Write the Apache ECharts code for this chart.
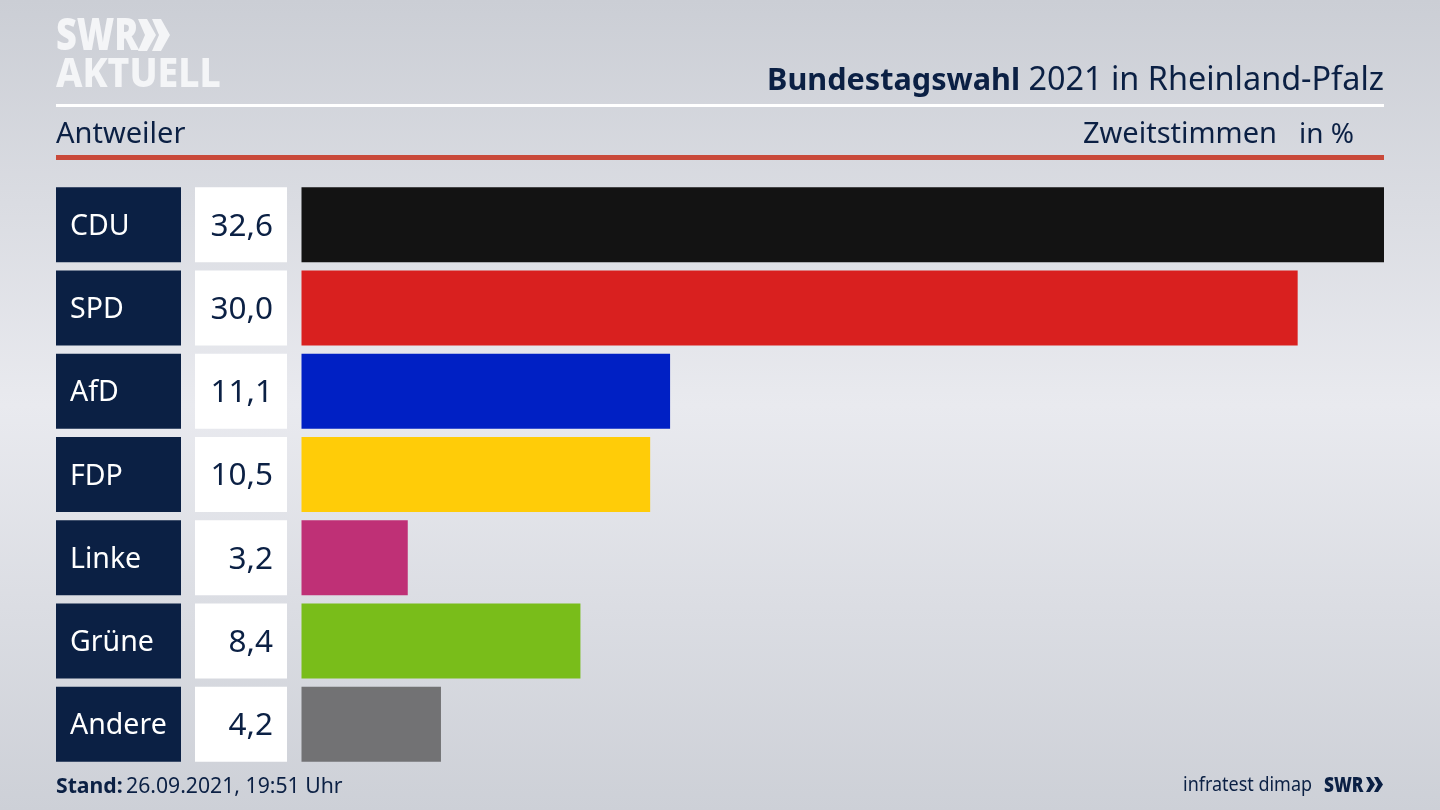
<!DOCTYPE html>
<html>
<head>
<meta charset="utf-8">
<title>Bundestagswahl 2021 Antweiler</title>
<script src="https://cdn.jsdelivr.net/npm/echarts@6/dist/echarts.min.js"></script>
<style>
  html, body { margin: 0; padding: 0; }
  #chart { width: 1440px; height: 810px; }
</style>
</head>
<body>
<div id="chart"></div>
<script>
const parties = ['CDU', 'SPD', 'AfD', 'FDP', 'Linke', 'Grüne', 'Andere'];
const shares = [32.6, 30.0, 11.1, 10.5, 3.2, 8.4, 4.2];
const partyColors = ['#131313', '#d9201f', '#0020c4', '#ffcc08', '#bf3076', '#79bd1a', '#727274'];

const navy = '#0b2044';
const font = '"Noto Sans", "Open Sans", sans-serif';

const chart = echarts.init(document.getElementById('chart'));

function chevron(x, y, fill) {
  return {
    type: 'polygon',
    shape: { points: [[x, y], [x + 9, y], [x + 18, y + 16], [x + 9, y + 32], [x, y + 32], [x + 7, y + 16]] },
    style: { fill: fill }
  };
}

function smallChevron(x, y) {
  return {
    type: 'polygon',
    shape: { points: [[x, y], [x + 4, y], [x + 9, y + 7.5], [x + 4, y + 15], [x, y + 15], [x + 4, y + 7.5]] },
    style: { fill: navy }
  };
}

chart.setOption({
  animation: false,
  backgroundColor: new echarts.graphic.LinearGradient(0, 0, 0, 1, [
    { offset: 0, color: '#cbced5' },
    { offset: 0.5, color: '#e9eaef' },
    { offset: 1, color: '#cdd0d7' }
  ]),
  grid: { left: 301.5, right: 56, top: 183, height: 583, containLabel: false },
  xAxis: { type: 'value', min: 0, max: 32.6, show: false },
  yAxis: {
    type: 'category',
    data: parties,
    inverse: true,
    axisLine: { show: false },
    axisTick: { show: false },
    axisLabel: {
      margin: 14.5,
      formatter: function (name, i) {
        return '{party|' + name + '}{gap|}{share|' + shares[i].toFixed(1).replace('.', ',') + '}';
      },
      rich: {
        party: {
          width: 111, height: 71, padding: [4, 0, 0, 14], align: 'left',
          backgroundColor: navy, color: '#ffffff', fontFamily: font, fontSize: 28.5
        },
        gap: { width: 14, height: 75 },
        share: {
          width: 78, height: 71, padding: [4, 14, 0, 0], align: 'right',
          backgroundColor: '#ffffff', color: navy, fontFamily: font, fontSize: 31.5
        }
      }
    }
  },
  series: [{
    type: 'bar',
    barWidth: 75,
    data: shares.map((v, i) => ({ value: v, itemStyle: { color: partyColors[i] } }))
  }],
  graphic: [
    // header
    { type: 'text', x: 56, y: 15, scaleX: 0.82, style: { text: 'SWR', fill: '#f4f5f7', font: '900 44px ' + font } },
    chevron(138, 19, '#f4f5f7'),
    chevron(152, 19, '#f4f5f7'),
    { type: 'text', x: 56, y: 55, scaleX: 0.91, style: { text: 'AKTUELL', fill: '#f4f5f7', font: '800 41px ' + font } },
    { type: 'text', x: 1020, y: 66, style: { text: 'Bundestagswahl', align: 'right', fill: navy, font: '700 30.6px ' + font } },
    { type: 'text', x: 1384, y: 65, style: { text: '2021 in Rheinland-Pfalz', align: 'right', fill: navy, font: '400 32.4px ' + font } },
    { type: 'rect', shape: { x: 56, y: 104, width: 1328, height: 3 }, style: { fill: '#ffffff' } },
    { type: 'text', x: 56, y: 120, style: { text: 'Antweiler', fill: navy, font: '400 29px ' + font } },
    { type: 'text', x: 1277, y: 120, style: { text: 'Zweitstimmen', align: 'right', fill: navy, font: '400 29px ' + font } },
    { type: 'text', x: 1354, y: 121, style: { text: 'in %', align: 'right', fill: navy, font: '400 28px ' + font } },
    { type: 'rect', shape: { x: 56, y: 155, width: 1328, height: 5 }, style: { fill: '#c9493a' } },
    // footer
    {
      type: 'text', x: 56, y: 776,
      style: {
        text: '{b|Stand:} {r|26.09.2021, 19:51 Uhr}',
        rich: {
          b: { font: '700 21.2px ' + font, fill: navy },
          r: { font: '400 21.2px ' + font, fill: navy }
        }
      }
    },
    { type: 'text', x: 1312, y: 776, scaleX: 0.945, style: { text: 'infratest dimap', align: 'right', fill: navy, font: '400 19px ' + font } },
    { type: 'text', x: 1324, y: 776, scaleX: 0.82, style: { text: 'SWR', fill: navy, font: '900 21px ' + font } },
    smallChevron(1366, 777),
    smallChevron(1374, 777)
  ]
});
</script>
</body>
</html>
